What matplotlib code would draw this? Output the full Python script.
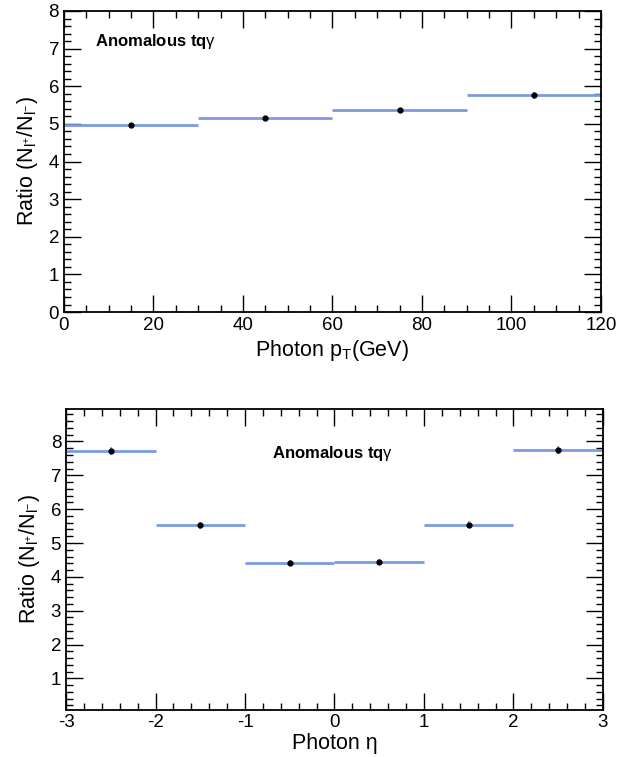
import matplotlib
matplotlib.use("Agg")
import matplotlib.pyplot as plt
from matplotlib.ticker import MultipleLocator

plt.rcParams["font.family"] = ["Liberation Sans", "DejaVu Sans"]
plt.rcParams["mathtext.fontset"] = "custom"
plt.rcParams["mathtext.rm"] = "Liberation Sans"
plt.rcParams["mathtext.it"] = "Liberation Sans:italic"
plt.rcParams["mathtext.bf"] = "Liberation Sans:bold"
plt.rcParams["axes.unicode_minus"] = False

# photon pT bins (GeV) and N+/N- ratio
pt_edges = [0, 30, 60, 90, 120]
pt_ratio = [4.98, 5.15, 5.36, 5.76]
pt_err = [0.05, 0.05, 0.06, 0.09]

# photon eta bins and ratio
eta_edges = [-3, -2, -1, 0, 1, 2, 3]
eta_ratio = [7.72, 5.52, 4.42, 4.43, 5.54, 7.75]
eta_err = [0.12, 0.11, 0.09, 0.09, 0.11, 0.12]

LINE_C = "#7b9be0"
YLAB = r"Ratio (N$_{\mathrm{l^{+}}}$/N$_{\mathrm{l^{-}}}$)"
TAG = r"$\mathbf{Anomalous\ tq}\mathrm{\gamma}$"


def draw(ax, edges, vals, errs):
    for i, v in enumerate(vals):
        ax.hlines(v, edges[i], edges[i + 1], color=LINE_C, lw=2.0, zorder=2)
    centers = [(edges[i] + edges[i + 1]) / 2 for i in range(len(vals))]
    ax.errorbar(centers, vals, yerr=errs, fmt="o", ms=3.5, color="black",
                ecolor=LINE_C, elinewidth=1.2, capsize=0, zorder=3)


def style(ax):
    ax.tick_params(which="both", direction="in", top=True, right=True,
                   labelsize=13.5, width=1.0)
    ax.tick_params(which="major", length=12)
    ax.tick_params(which="minor", length=5)
    for s in ax.spines.values():
        s.set_linewidth(1.3)


fig = plt.figure(figsize=(6.2, 7.57), dpi=100)

# top panel: photon pT
ax1 = fig.add_axes([0.1032, 0.5878, 0.866, 0.3977])
draw(ax1, pt_edges, pt_ratio, pt_err)
ax1.set_xlim(0, 120)
ax1.set_ylim(0, 8)
ax1.xaxis.set_major_locator(MultipleLocator(20))
ax1.xaxis.set_minor_locator(MultipleLocator(5))
ax1.yaxis.set_major_locator(MultipleLocator(1))
ax1.yaxis.set_minor_locator(MultipleLocator(0.2))
style(ax1)
ax1.set_xlabel(r"Photon p$_{\mathrm{T}}$(GeV)", fontsize=15.5, labelpad=3)
ax1.set_ylabel(YLAB, fontsize=15.5, labelpad=6)
ax1.text(0.058, 0.897, TAG, transform=ax1.transAxes,
         fontsize=12, ha="left", va="center")

# bottom panel: photon eta
ax2 = fig.add_axes([0.1065, 0.0627, 0.866, 0.397])
draw(ax2, eta_edges, eta_ratio, eta_err)
ax2.set_xlim(-3, 3)
ax2.set_ylim(0.08, 8.96)
ax2.xaxis.set_major_locator(MultipleLocator(1))
ax2.xaxis.set_minor_locator(MultipleLocator(0.2))
ax2.yaxis.set_major_locator(MultipleLocator(1))
ax2.yaxis.set_minor_locator(MultipleLocator(0.2))
style(ax2)
ax2.set_xlabel("Photon η", fontsize=15.5, labelpad=1)
ax2.set_ylabel(YLAB, fontsize=15.5, labelpad=6)
ax2.text(0.497, 0.853, TAG, transform=ax2.transAxes,
         fontsize=12, ha="center", va="center")

fig.savefig("out.png", dpi=100)
